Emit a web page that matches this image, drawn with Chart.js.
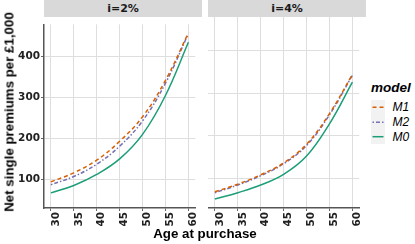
<!DOCTYPE html>
<html>
<head>
<meta charset="utf-8">
<script src="https://cdn.jsdelivr.net/npm/chart.js@4.4.1/dist/chart.umd.min.js"></script>
<style>
  body { margin: 0; background: #fff; width: 415px; height: 244px; position: relative; overflow: hidden;
         font-family: "Liberation Sans", Arial, sans-serif; color: #000; }
  canvas { position: absolute; }
  .strip { position: absolute; top: 0; height: 17px; background: #d9d9d9; color: #1a1a1a;
           font: bold 11px "DejaVu Sans"; text-align: center; line-height: 18px; }
  .title { position: absolute; font-weight: bold; font-size: 13.3px; white-space: nowrap;
           transform: translate(-50%, -50%); }
  .ytitle { transform: translate(-50%, -50%) rotate(-90deg); }
  .leg { position: absolute; white-space: nowrap; transform: translateY(-50%); }
</style>
</head>
<body>
<div class="strip" style="left:44px;width:158px;">i=2%</div>
<div class="strip" style="left:208px;width:158px;">i=4%</div>
<canvas id="p1" width="202" height="213" style="left:0;top:17px;"></canvas>
<canvas id="p2" width="158" height="213" style="left:208px;top:17px;"></canvas>
<div class="title ytitle" style="left:9px;top:112px;">Net single premiums per £1,000</div>
<div class="title" style="left:205px;top:233px;">Age at purchase</div>

<div class="leg" style="left:371px;top:87px;font-weight:bold;font-style:italic;font-size:13.5px;">model</div>
<div style="position:absolute;left:371px;top:100px;width:14px;height:44px;background:#f2f2f2;"></div>
<svg style="position:absolute;left:371px;top:100px;" width="14" height="44">
  <line x1="1.5" y1="7.3" x2="12.5" y2="7.3" stroke="#D95F02" stroke-width="1.5" stroke-dasharray="4,3"/>
  <line x1="1.5" y1="22.3" x2="12.5" y2="22.3" stroke="#7570B3" stroke-width="1.5" stroke-dasharray="1.5,2,4,2"/>
  <line x1="1.5" y1="36.7" x2="12.5" y2="36.7" stroke="#1B9E77" stroke-width="1.5"/>
</svg>
<div class="leg" style="left:392.5px;top:107.3px;font-style:italic;font-size:12px;">M1</div>
<div class="leg" style="left:392.5px;top:122.3px;font-style:italic;font-size:12px;">M2</div>
<div class="leg" style="left:392.5px;top:136.7px;font-style:italic;font-size:12px;">M0</div>

<script>
// ages at purchase
const ages = [30, 35, 40, 45, 50, 55, 60];

// i = 2%
const i2M1 = [94, 116, 147, 193, 253, 342, 458];
const i2M2 = [87, 107, 137, 181, 243, 335, 456];
const i2M0 = [67, 85, 112, 150, 210, 305, 435];

// i = 4%
const i4M1 = [68, 86, 108, 136, 180, 252, 344];
const i4M2 = [66, 84, 106, 134, 177, 249, 342];
const i4M0 = [51, 66, 84, 109, 152, 228, 326];

const xTicks = [30, 35, 40, 45, 50, 55, 60];
const yTicks = [100, 200, 300, 400];

const tickFont = { family: "DejaVu Sans", weight: "bold", size: 10.5 };

function pts(vals) {
  return ages.map((a, k) => ({ x: a, y: vals[k] }));
}

function makeDatasets(m1, m2, m0) {
  return [
    { label: "M1", data: pts(m1), borderColor: "#D95F02", borderDash: [4, 3] },
    { label: "M2", data: pts(m2), borderColor: "#7570B3", borderDash: [1.5, 2, 4, 2] },
    { label: "M0", data: pts(m0), borderColor: "#1B9E77" },
  ];
}

function makePanel(id, datasets, showY) {
  new Chart(document.getElementById(id), {
    type: "line",
    data: { datasets: datasets },
    options: {
      responsive: false,
      animation: false,
      layout: { padding: 0 },
      elements: {
        line: { borderWidth: 1.5, tension: 0.4, fill: false },
        point: { radius: 0 },
      },
      plugins: { legend: { display: false }, tooltip: { enabled: false } },
      scales: {
        x: {
          type: "linear",
          min: 28.5,
          max: 61.5,
          afterBuildTicks: s => { s.ticks = xTicks.map(v => ({ value: v })); },
          afterFit: s => { s.height = 22; },
          ticks: { minRotation: 90, maxRotation: 90, font: tickFont, color: "#222", padding: 1,
                   labelOffset: 5, autoSkip: false },
          grid: { color: "#dedede", lineWidth: 1, tickLength: 3, tickColor: "#666" },
          border: { color: "#555", width: 1.5 },
        },
        y: {
          min: 30,
          max: 479,
          afterBuildTicks: s => { s.ticks = yTicks.map(v => ({ value: v })); },
          afterFit: s => { s.width = showY ? 44 : 0; },
          ticks: { display: showY, font: tickFont, color: "#222", padding: 1 },
          grid: { color: "#dedede", lineWidth: 1, tickLength: 3, tickColor: "#666", drawTicks: showY },
          border: { display: showY, color: "#555", width: 1.5 },
        },
      },
    },
  });
}

makePanel("p1", makeDatasets(i2M1, i2M2, i2M0), true);
makePanel("p2", makeDatasets(i4M1, i4M2, i4M0), false);
</script>
</body>
</html>
